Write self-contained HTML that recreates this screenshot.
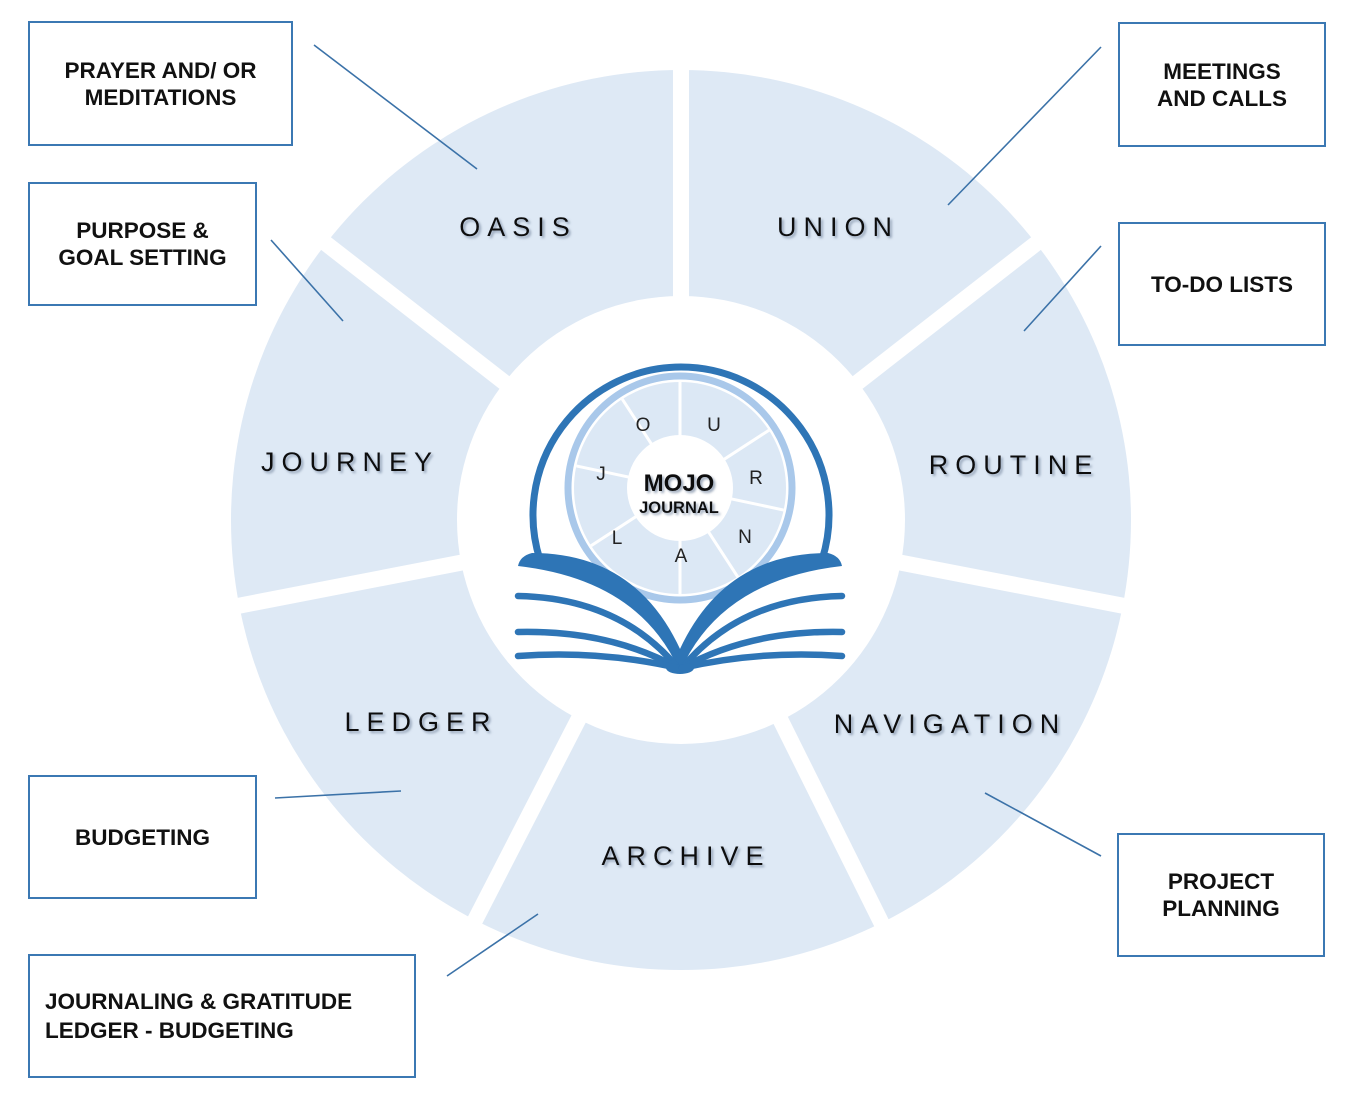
<!DOCTYPE html>
<html><head><meta charset="utf-8"><style>
html,body{margin:0;padding:0;background:#fff;}
body{width:1363px;height:1097px;position:relative;overflow:hidden;font-family:"Liberation Sans",Arial,sans-serif;}
.box{position:absolute;border:2px solid #3b78b3;box-sizing:border-box;display:flex;align-items:center;justify-content:center;text-align:center;font-weight:bold;font-size:22.5px;line-height:27px;color:#111;}
</style></head><body>
<svg width="1363" height="1097" style="position:absolute;left:0;top:0">
<defs><filter id="sh" x="-10%" y="-20%" width="130%" height="150%"><feDropShadow dx="2" dy="2" stdDeviation="1.2" flood-color="#7f8fa6" flood-opacity="0.8"/></filter></defs>
<circle cx="681" cy="520" r="450" fill="#dee9f5"/>
<g stroke="#fff" stroke-width="16">
<line x1="681" y1="520" x2="681" y2="60"/>
<line x1="681" y1="520" x2="1040.6" y2="240"/>
<line x1="681" y1="520" x2="1129.5" y2="607"/>
<line x1="681" y1="520" x2="885" y2="930"/>
<line x1="681" y1="520" x2="470" y2="930"/>
<line x1="681" y1="520" x2="232.5" y2="607"/>
<line x1="681" y1="520" x2="321.4" y2="240"/>
</g>
<circle cx="681" cy="520" r="224" fill="#fff"/>
<g font-size="27" fill="#111" letter-spacing="7" text-anchor="middle" filter="url(#sh)">
<text x="518" y="236">OASIS</text>
<text x="838" y="236">UNION</text>
<text x="350" y="471">JOURNEY</text>
<text x="1014" y="474">ROUTINE</text>
<text x="421" y="731">LEDGER</text>
<text x="950" y="733">NAVIGATION</text>
<text x="686" y="865">ARCHIVE</text>
</g>
<g stroke="#3b72a8" stroke-width="1.6">
<line x1="314" y1="45" x2="477" y2="169"/>
<line x1="271" y1="240" x2="343" y2="321"/>
<line x1="1101" y1="47" x2="948" y2="205"/>
<line x1="1101" y1="246" x2="1024" y2="331"/>
<line x1="275" y1="798" x2="401" y2="791"/>
<line x1="1101" y1="856" x2="985" y2="793"/>
<line x1="447" y1="976" x2="538" y2="914"/>
</g>
<!-- logo -->
<path d="M540,560 A148,148 0 1 1 822,560" fill="none" stroke="#2e75b6" stroke-width="7"/>
<circle cx="680" cy="488" r="112" fill="none" stroke="#a9c8ea" stroke-width="7"/>
<circle cx="680" cy="488" r="106" fill="#dce8f5"/>
<g stroke="#fff" stroke-width="3">
<line x1="680" y1="382" x2="680" y2="594"/>
<line x1="574" y1="488" x2="786" y2="488" transform="rotate(12 680 488)"/>
<line x1="605" y1="413" x2="755" y2="563" transform="rotate(12 680 488)"/>
<line x1="755" y1="413" x2="605" y2="563" transform="rotate(12 680 488)"/>
</g>
<circle cx="680" cy="488" r="53" fill="#fff"/>
<g font-size="19" fill="#222" text-anchor="middle">
<text x="643" y="431">O</text><text x="714" y="431">U</text><text x="756" y="484">R</text>
<text x="745" y="543">N</text><text x="681" y="562">A</text><text x="617" y="544">L</text><text x="601" y="480">J</text>
</g>
<text x="679" y="491" font-size="24" font-weight="bold" text-anchor="middle" fill="#111" filter="url(#sh)">MOJO</text>
<text x="679" y="513" font-size="16.5" font-weight="bold" text-anchor="middle" fill="#111" filter="url(#sh)">JOURNAL</text>
<g fill="#2e75b6">
<path d="M680,672 Q640,580 518,566 Q520,556 532,553 Q645,553 688,668 Z"/>
<path d="M680,672 Q720,580 842,566 Q840,556 828,553 Q715,553 672,668 Z"/>
<ellipse cx="680" cy="668" rx="14" ry="6"/>
</g>
<g fill="none" stroke="#2e75b6" stroke-width="6.5" stroke-linecap="round">
<path d="M678,668 Q620,598 518,596"/>
<path d="M678,668 Q610,630 518,632"/>
<path d="M678,668 Q600,650 518,656"/>
<path d="M682,668 Q740,598 842,596"/>
<path d="M682,668 Q750,630 842,632"/>
<path d="M682,668 Q760,650 842,656"/>
</g>
</svg>
<div class="box" style="left:28px;top:21px;width:265px;height:125px;">PRAYER AND/ OR<br>MEDITATIONS</div>
<div class="box" style="left:28px;top:182px;width:229px;height:124px;">PURPOSE &amp;<br>GOAL SETTING</div>
<div class="box" style="left:1118px;top:22px;width:208px;height:125px;">MEETINGS<br>AND CALLS</div>
<div class="box" style="left:1118px;top:222px;width:208px;height:124px;">TO-DO LISTS</div>
<div class="box" style="left:28px;top:775px;width:229px;height:124px;">BUDGETING</div>
<div class="box" style="left:1117px;top:833px;width:208px;height:124px;">PROJECT<br>PLANNING</div>
<div class="box" style="left:28px;top:954px;width:388px;height:124px;justify-content:flex-start;text-align:left;padding-left:15px;line-height:29px;">JOURNALING &amp; GRATITUDE<br>LEDGER - BUDGETING</div>
</body></html>
